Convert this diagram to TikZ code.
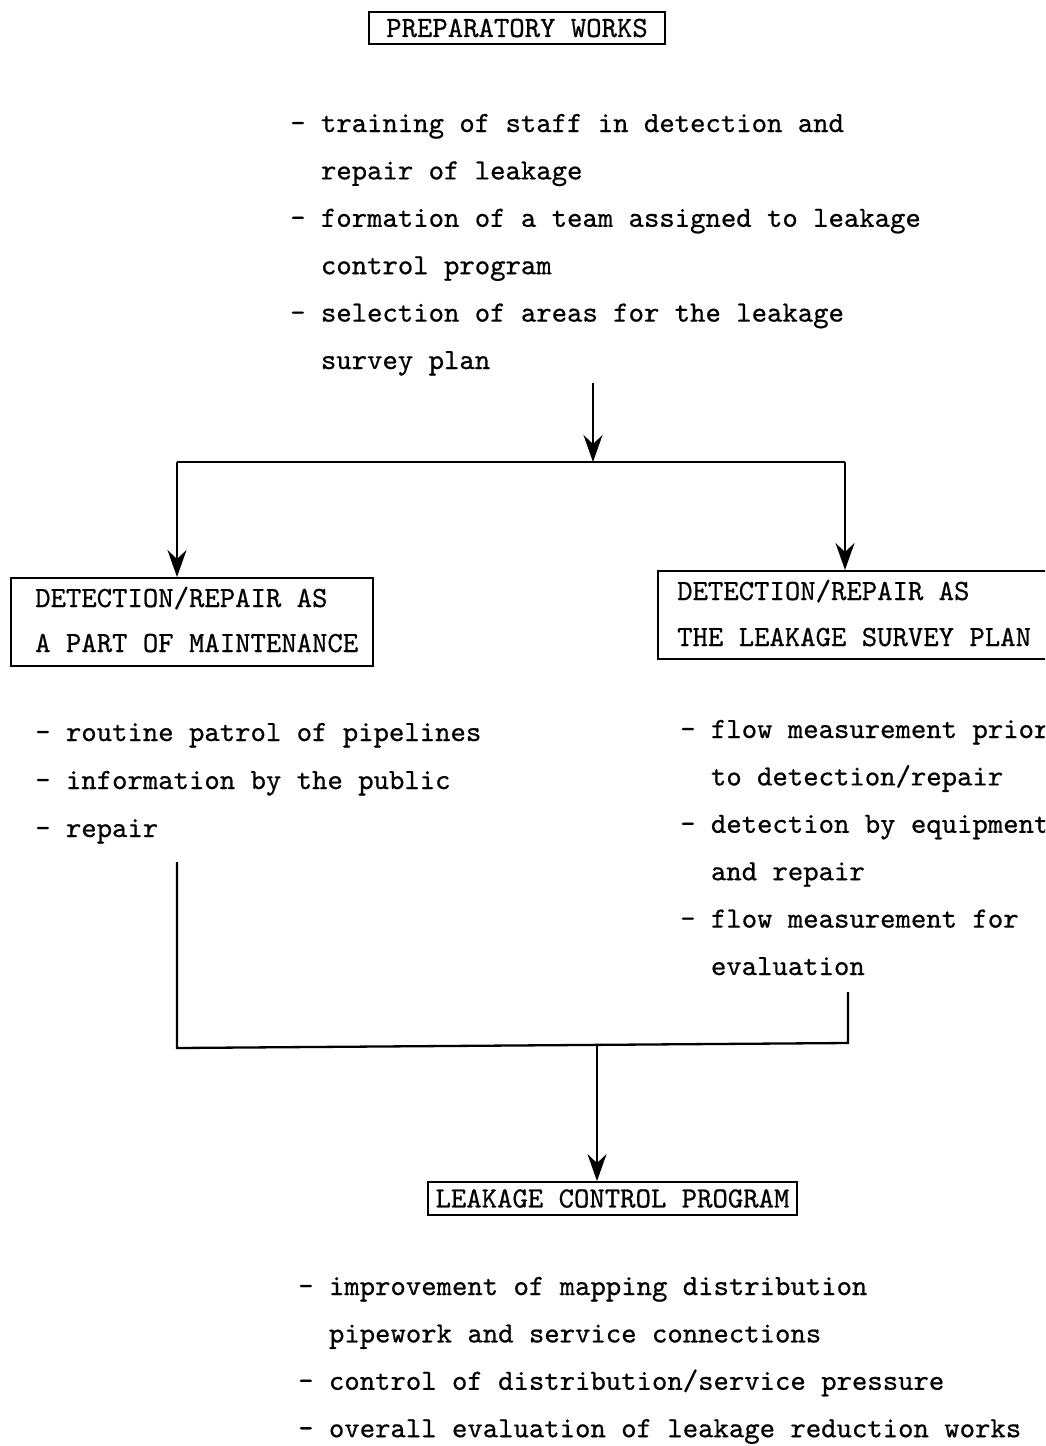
\documentclass[tikz,border=0pt]{standalone}
\usepackage{fontspec}
\newfontfamily\twfont{lmmono10-regular.otf}[FakeBold=0.6, WordSpace={1,0,0}]
\usetikzlibrary{arrows.meta}
\begin{document}
\begin{tikzpicture}[x=1pt,y=-1pt,
  tw/.style={font=\twfont\fontsize{29.3}{45}\selectfont},
  txt/.style={tw, inner sep=0pt, anchor=base west},
  titlebox/.style={tw, draw, line width=1.8pt, inner sep=0pt},
  frame/.style={draw, line width=1.8pt, inner sep=0pt, anchor=north west},
  conn/.style={line width=2.3pt},
  arr/.style={conn, -{Stealth[length=27pt,width=19pt,inset=9pt]}}]
\useasboundingbox (0,0) rectangle (1045,1446);
\clip (0,0) rectangle (1045,1446);

% stage boxes
\node[titlebox, minimum width=296pt, minimum height=32pt] (prep) at (517,28) {PREPARATORY WORKS};

\node[frame, minimum width=362pt, minimum height=88pt] (maint) at (10,577) {};
\node[txt] (maint1) at (35,607) {DETECTION/REPAIR AS};
\node[txt] (maint2) at (35,652) {A PART OF MAINTENANCE};

\node[frame, minimum width=420pt, minimum height=88pt] (survey) at (657,570) {};
\node[txt] (survey1) at (677,600) {DETECTION/REPAIR AS};
\node[txt] (survey2) at (677,646) {THE LEAKAGE SURVEY PLAN};

\node[titlebox, minimum width=369pt, minimum height=33pt] (lcp) at (612.5,1198.5) {LEAKAGE CONTROL PROGRAM};

% item lists
\newcommand{\ind}{\hphantom{- }}
\foreach \s [count=\i] in {- training of staff in detection and, \ind repair of leakage,
    - formation of a team assigned to leakage, \ind control program,
    - selection of areas for the leakage, \ind survey plan}
  \node[txt] (p\i) at (290,{132+47.4*(\i-1)}) {\s};
\foreach \s [count=\i] in {- routine patrol of pipelines, - information by the public, - repair}
  \node[txt] (m\i) at (35,{741+48*(\i-1)}) {\s};
\foreach \s [count=\i] in {- flow measurement prior, \ind to detection/repair,
    - detection by equipment, \ind and repair,
    - flow measurement for, \ind evaluation}
  \node[txt] (s\i) at (680,{738+47.4*(\i-1)}) {\s};
\foreach \s [count=\i] in {- improvement of mapping distribution, \ind pipework and service connections,
    - control of distribution/service pressure, - overall evaluation of leakage reduction works}
  \node[txt] (b\i) at (298,{1295+47.4*(\i-1)}) {\s};

% split after the preparatory works
\coordinate (down) at (593,383);
\coordinate (split) at (593,462);
\coordinate (splitL) at (177,462);
\coordinate (splitR) at (845,462);
\draw[arr] (down) -- (split);
\draw[conn] (splitL) -- (splitR);
\draw[arr] (splitL) -- (maint.north -| splitL);
\draw[arr] (splitR) -- (survey.north -| splitR);

% merge into the leakage control program
\coordinate (fromL) at (177,862);
\coordinate (cornerL) at (177,1048);
\coordinate (fromR) at (848,992);
\coordinate (cornerR) at (848,1043);
\coordinate (merge) at (597,1046);
\draw[conn] (fromL) -- (cornerL) -- (cornerR) -- (fromR);
\draw[arr] (merge) -- (lcp.north -| merge);
\end{tikzpicture}
\end{document}
